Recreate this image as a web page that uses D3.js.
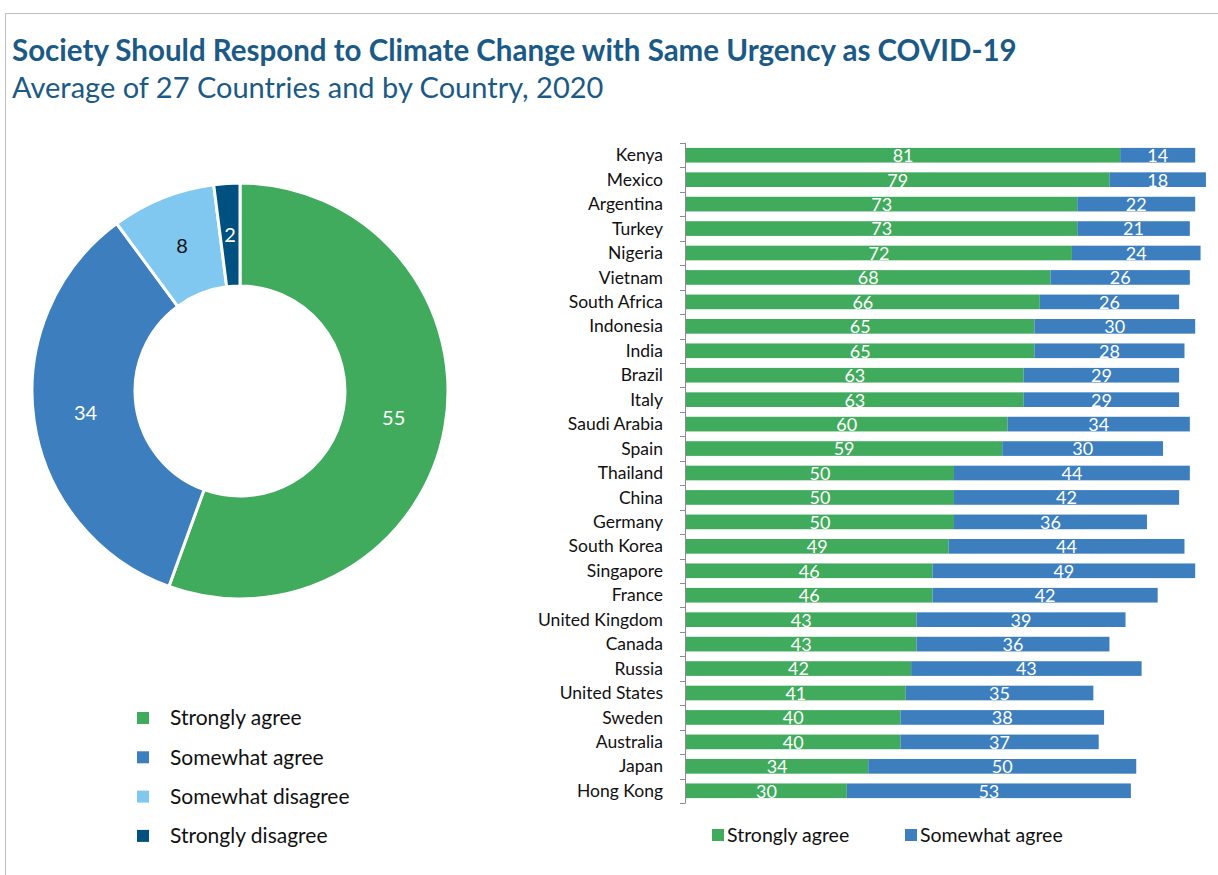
<!DOCTYPE html>
<html>
<head>
<meta charset="utf-8">
<script src="https://cdn.jsdelivr.net/npm/d3@7"></script>
<style>
  body { margin: 0; background: #fff; }
  text { font-family: Lato, "Open Sans", sans-serif; }
</style>
</head>
<body>
<svg id="chart" width="1218" height="875"></svg>
<script>
// data
var donutLabels = ["Strongly agree", "Somewhat agree", "Somewhat disagree", "Strongly disagree"];
var donutValues = [55, 34, 8, 2];
var donutColors = ["#41AB5D", "#3D7EBF", "#80C8EF", "#00517F"];
var donutTextColors = ["#fff", "#fff", "#111", "#fff"];

var countries = ["Kenya", "Mexico", "Argentina", "Turkey", "Nigeria", "Vietnam", "South Africa", "Indonesia",
  "India", "Brazil", "Italy", "Saudi Arabia", "Spain", "Thailand", "China", "Germany", "South Korea",
  "Singapore", "France", "United Kingdom", "Canada", "Russia", "United States", "Sweden", "Australia",
  "Japan", "Hong Kong"];
var stronglyAgree = [81, 79, 73, 73, 72, 68, 66, 65, 65, 63, 63, 60, 59, 50, 50, 50, 49, 46, 46, 43, 43, 42, 41, 40, 40, 34, 30];
var somewhatAgree = [14, 18, 22, 21, 24, 26, 26, 30, 28, 29, 29, 34, 30, 44, 42, 36, 44, 49, 42, 39, 36, 43, 35, 38, 37, 50, 53];
var barSeries = ["Strongly agree", "Somewhat agree"];

var svg = d3.select("#chart");
var titleColor = "#1B5A87";

// frame
svg.append("rect")
  .attr("x", 5.5).attr("y", 13.5)
  .attr("width", 1300).attr("height", 900)
  .attr("fill", "none")
  .attr("stroke", "#BFBFBF");

svg.append("text")
  .attr("x", 12).attr("y", 61)
  .style("font-size", "29.5px")
  .style("font-weight", "bold")
  .style("fill", titleColor)
  .text("Society Should Respond to Climate Change with Same Urgency as COVID-19");
svg.append("text")
  .attr("x", 12).attr("y", 98)
  .style("font-size", "29px")
  .style("fill", titleColor)
  .text("Average of 27 Countries and by Country, 2020");

// donut
var cx = 240, cy = 391;
var pie = d3.pie().sort(null).value(function(d) { return d; });
var arc = d3.arc().innerRadius(105).outerRadius(208);
var labelArc = d3.arc().innerRadius(156).outerRadius(156);
var g = svg.append("g").attr("transform", "translate(" + cx + "," + cy + ")");
var arcs = pie(donutValues);
g.selectAll("path.slice")
  .data(arcs)
  .enter().append("path")
  .attr("class", "slice")
  .attr("d", arc)
  .attr("fill", function(d, i) { return donutColors[i]; })
  .attr("stroke", "#fff")
  .attr("stroke-width", 3);
g.selectAll("text.val")
  .data(arcs)
  .enter().append("text")
  .attr("class", "val")
  .attr("transform", function(d) { return "translate(" + labelArc.centroid(d) + ")"; })
  .attr("text-anchor", "middle")
  .attr("dy", "0.35em")
  .style("font-size", "20px")
  .style("fill", function(d, i) { return donutTextColors[i]; })
  .text(function(d) { return d.data; });

// donut legend
var leg = svg.append("g");
donutLabels.forEach(function(name, i) {
  var y = 718 + i * 39.3;
  leg.append("rect")
    .attr("x", 137).attr("y", y - 6)
    .attr("width", 12).attr("height", 12)
    .attr("fill", donutColors[i]);
  leg.append("text")
    .attr("x", 170).attr("y", y)
    .attr("dy", "0.35em")
    .style("font-size", "21px")
    .style("fill", "#111")
    .text(name);
});

// bars
var y = d3.scaleBand().domain(countries).range([143, 803]).paddingInner(0.4).paddingOuter(0.2);
var x = d3.scaleLinear().domain([0, 100]).range([686, 1222]);
var step = y.step();

var axisG = svg.append("g");
axisG.append("line")
  .attr("x1", 685.5).attr("x2", 685.5)
  .attr("y1", 143).attr("y2", 803)
  .attr("stroke", "#8C8C8C");
d3.range(countries.length + 1).forEach(function(i) {
  var ty = Math.round(143 + i * step) + 0.5;
  axisG.append("line")
    .attr("x1", 680).attr("x2", 685.5)
    .attr("y1", ty).attr("y2", ty)
    .attr("stroke", "#8C8C8C");
});

var rows = countries.map(function(c, i) {
  return { name: c, a: stronglyAgree[i], b: somewhatAgree[i] };
});

svg.selectAll("text.country")
  .data(rows)
  .enter().append("text")
  .attr("class", "country")
  .attr("x", 663)
  .attr("y", function(d) { return y(d.name) + y.bandwidth() / 2; })
  .attr("dy", "0.35em")
  .attr("text-anchor", "end")
  .style("font-size", "17.5px")
  .style("fill", "#111")
  .text(function(d) { return d.name; });

var bars = svg.append("g");
bars.selectAll("rect.sa")
  .data(rows)
  .enter().append("rect")
  .attr("x", x(0))
  .attr("y", function(d) { return y(d.name); })
  .attr("width", function(d) { return x(d.a) - x(0); })
  .attr("height", y.bandwidth())
  .attr("fill", donutColors[0]);
bars.selectAll("rect.swa")
  .data(rows)
  .enter().append("rect")
  .attr("x", function(d) { return x(d.a); })
  .attr("y", function(d) { return y(d.name); })
  .attr("width", function(d) { return x(d.a + d.b) - x(d.a); })
  .attr("height", y.bandwidth())
  .attr("fill", donutColors[1]);

bars.selectAll("text.va")
  .data(rows)
  .enter().append("text")
  .attr("x", function(d) { return (x(0) + x(d.a)) / 2; })
  .attr("y", function(d) { return y(d.name) + y.bandwidth() / 2; })
  .attr("dy", "0.38em")
  .attr("text-anchor", "middle")
  .style("font-size", "18px")
  .style("fill", "#fff")
  .text(function(d) { return d.a; });
bars.selectAll("text.vb")
  .data(rows)
  .enter().append("text")
  .attr("x", function(d) { return (x(d.a) + x(d.a + d.b)) / 2; })
  .attr("y", function(d) { return y(d.name) + y.bandwidth() / 2; })
  .attr("dy", "0.38em")
  .attr("text-anchor", "middle")
  .style("font-size", "18px")
  .style("fill", "#fff")
  .text(function(d) { return d.b; });

// bar legend
var legX = [712, 905];
barSeries.forEach(function(name, i) {
  svg.append("rect")
    .attr("x", legX[i]).attr("y", 829)
    .attr("width", 12).attr("height", 12)
    .attr("fill", donutColors[i]);
  svg.append("text")
    .attr("x", legX[i] + 15).attr("y", 835)
    .attr("dy", "0.35em")
    .style("font-size", "19.5px")
    .style("fill", "#111")
    .text(name);
});
</script>
</body>
</html>
